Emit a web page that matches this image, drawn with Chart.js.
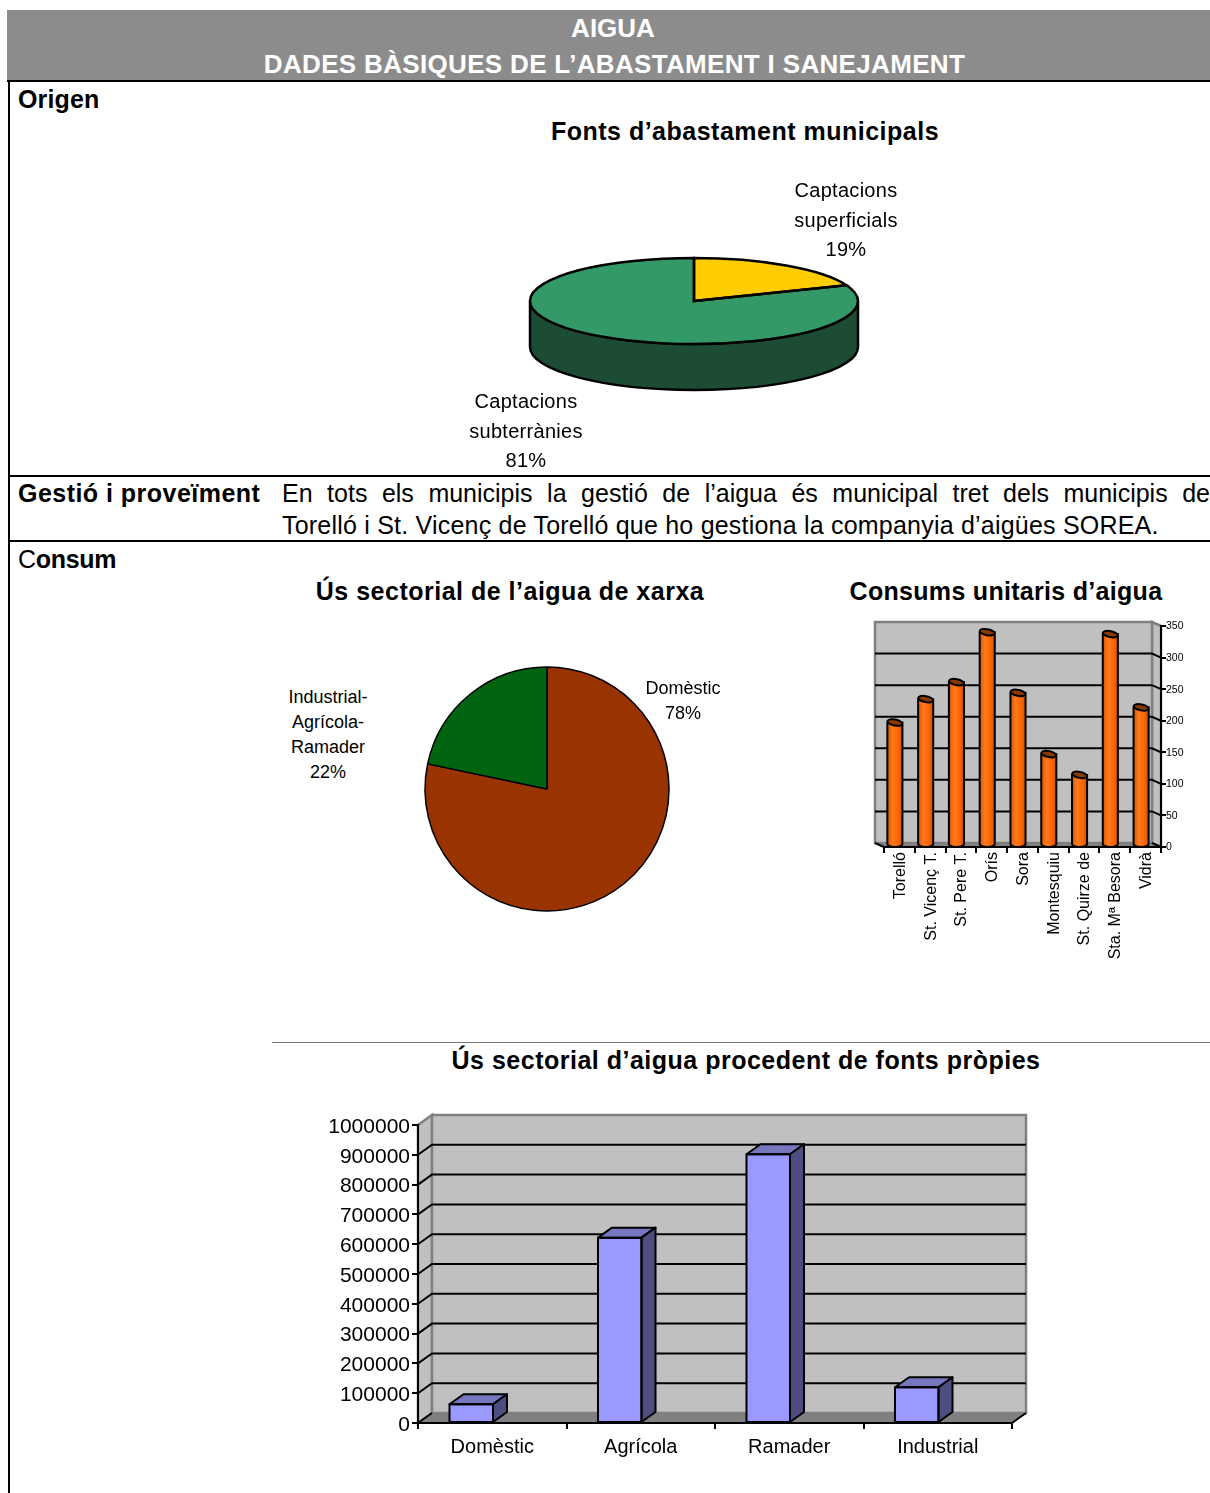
<!DOCTYPE html>
<html lang="ca">
<head>
<meta charset="utf-8">
<title>Aigua</title>
<script src="https://cdn.jsdelivr.net/npm/chart.js@4"></script>
<style>
    html, body { margin: 0; padding: 0; background: #fff; }
    body { position: relative; width: 1210px; height: 1493px; overflow: hidden; font-family: "Liberation Sans", Arial, sans-serif; color: #000; }
    canvas { position: absolute; }
    .rule { position: absolute; background: #000; }
    .text { position: absolute; white-space: nowrap; line-height: 1; }
    .bold { font-weight: bold; }
    .head { color: #fff; font-weight: bold; font-size: 26px; text-align: center; left: 0; }
    .title { font-weight: bold; font-size: 25px; text-align: center; letter-spacing: 0.5px; }
    .pie-label { text-align: center; font-size: 20px; line-height: 29.5px; letter-spacing: 0.3px; transform: translateX(-50%); }
    .pie-label.small { font-size: 18px; line-height: 25px; letter-spacing: 0; }
    #para { left: 282px; width: 928px; top: 477px; font-size: 25px; line-height: 32px; white-space: normal; text-align: justify; }
    #para span { display: block; text-align-last: justify; }
    #para span + span { text-align-last: left; letter-spacing: 0.21px; }
</style>
</head>
<body>
<div style="position:absolute;left:7px;top:10px;width:1203px;height:71px;background:#8c8c8c"></div>
<div class="rule" style="left:7px;top:80px;width:1203px;height:2px"></div>
<div class="rule" style="left:8px;top:81px;width:2px;height:1412px"></div>
<div class="rule" style="left:9px;top:475px;width:1201px;height:2px"></div>
<div class="rule" style="left:9px;top:540px;width:1201px;height:2px"></div>
<div class="rule" style="left:272px;top:1042px;width:938px;height:1px;background:#777"></div>

<div class="text head" style="top:15px;width:1226px">AIGUA</div>
<div class="text head" style="top:51px;width:1229px;letter-spacing:0.33px">DADES BÀSIQUES DE L’ABASTAMENT I SANEJAMENT</div>
<div class="text bold" style="left:18px;top:87px;font-size:25px;letter-spacing:0.15px">Origen</div>
<div class="text title" style="left:445px;width:600px;top:119px">Fonts d’abastament municipals</div>
<div class="text bold" style="left:18px;top:481px;font-size:25px;letter-spacing:0.47px">Gestió i proveïment</div>
<div class="text" id="para"><span>En tots els municipis la gestió de l’aigua és municipal tret dels municipis de</span><span>Torelló i St. Vicenç de Torelló que ho gestiona la companyia d’aigües SOREA.</span></div>
<div class="text" style="left:18px;top:547px;font-size:25px;letter-spacing:-0.3px">C<b>onsum</b></div>
<div class="text title" style="left:210px;width:600px;top:579px">Ús sectorial de l’aigua de xarxa</div>
<div class="text title" style="left:706px;width:600px;top:579px;letter-spacing:0.3px">Consums unitaris d’aigua</div>
<div class="text title" style="left:446px;width:600px;top:1048px">Ús sectorial d’aigua procedent de fonts pròpies</div>

<canvas id="fontsChart" width="340" height="340" style="left:524px;top:131px"></canvas>
<canvas id="xarxaChart" width="260" height="260" style="left:417px;top:659px"></canvas>
<canvas id="unitarisChart" width="340" height="360" style="left:860px;top:610px"></canvas>
<canvas id="propiesChart" width="750" height="360" style="left:310px;top:1100px"></canvas>

<div class="text pie-label" style="left:846px;top:176px">Captacions<br>superficials<br>19%</div>
<div class="text pie-label" style="left:526px;top:387px">Captacions<br>subterrànies<br>81%</div>
<div class="text pie-label small" style="left:683px;top:676px">Domèstic<br>78%</div>
<div class="text pie-label small" style="left:328px;top:685px">Industrial-<br>Agrícola-<br>Ramader<br>22%</div>

<script>
// ============ DATA ============
const fontsLabels = ['Captacions superficials', 'Captacions subterrànies'];
const fontsValues = [19, 81];

const xarxaLabels = ['Domèstic', 'Industrial-Agrícola-Ramader'];
const xarxaValues = [78.3, 21.7];

const unitarisLabels = ['Torelló', 'St. Vicenç T.', 'St. Pere T.', 'Orís', 'Sora', 'Montesquiu', 'St. Quirze de', 'Sta. Mª Besora', 'Vidrà'];
const unitarisValues = [194, 231, 258, 337, 241, 144, 111, 334, 218];

const propiesLabels = ['Domèstic', 'Agrícola', 'Ramader', 'Industrial'];
const propiesValues = [63000, 622000, 902000, 120000];

const FONT = '"Liberation Sans", Arial, sans-serif';
Chart.defaults.animation = false;
Chart.defaults.font.family = FONT;
Chart.defaults.color = '#000';

// ============ 3D PIE PLUGIN ============
const squash = 0.262;
const pieDepth = 46;
const pie3d = {
    id: 'pie3d',
    beforeDatasetsDraw(chart) {
        const arc = chart.getDatasetMeta(0).data[0];
        const { x, y, outerRadius: r } = arc;
        const ry = r * squash;
        const ctx = chart.ctx;
        ctx.save();
        ctx.beginPath();
        ctx.moveTo(x - r, y);
        ctx.lineTo(x - r, y + pieDepth);
        ctx.ellipse(x, y + pieDepth, r, ry, 0, Math.PI, 0, true);
        ctx.lineTo(x + r, y);
        ctx.ellipse(x, y, r, ry, 0, 0, Math.PI, false);
        ctx.closePath();
        ctx.fillStyle = '#1c4c33';
        ctx.fill();
        ctx.lineWidth = 2.5;
        ctx.strokeStyle = '#000';
        ctx.stroke();
        ctx.restore();
        ctx.save();
        ctx.translate(x, y);
        ctx.scale(1, squash);
        ctx.translate(-x, -y);
    },
    afterDatasetsDraw(chart) {
        const ctx = chart.ctx;
        ctx.restore();
        ctx.save();
        ctx.lineWidth = 2.5;
        ctx.strokeStyle = '#000';
        chart.getDatasetMeta(0).data.forEach(arc => {
            ctx.beginPath();
            ctx.moveTo(arc.x, arc.y);
            ctx.ellipse(arc.x, arc.y, arc.outerRadius, arc.outerRadius * squash, 0, arc.startAngle, arc.endAngle);
            ctx.closePath();
            ctx.stroke();
        });
        ctx.restore();
    }
};

// ============ 3D WALLS PLUGIN ============
// shift is how far the back wall sits from the front axes
function wallPlugin(sx, sy, step) {
    return {
        id: 'wall3d',
        beforeDraw(chart) {
            const { left, right, top, bottom } = chart.chartArea;
            const yScale = chart.scales.y;
            const ctx = chart.ctx;
            const sideX = sx > 0 ? left : right;
            ctx.save();
            // side wall
            ctx.beginPath();
            ctx.moveTo(sideX, top);
            ctx.lineTo(sideX + sx, top + sy);
            ctx.lineTo(sideX + sx, bottom + sy);
            ctx.lineTo(sideX, bottom);
            ctx.closePath();
            ctx.fillStyle = '#c0c0c0';
            ctx.fill();
            ctx.strokeStyle = '#808080';
            ctx.lineWidth = 2.5;
            ctx.stroke();
            // back wall
            ctx.fillStyle = '#c0c0c0';
            ctx.fillRect(left + sx, top + sy, right - left, bottom - top);
            ctx.strokeRect(left + sx, top + sy, right - left, bottom - top);
            // floor
            ctx.beginPath();
            ctx.moveTo(left, bottom);
            ctx.lineTo(left + sx, bottom + sy);
            ctx.lineTo(right + sx, bottom + sy);
            ctx.lineTo(right, bottom);
            ctx.closePath();
            ctx.fillStyle = '#808080';
            ctx.fill();
            // grid lines on wall and side
            ctx.strokeStyle = '#000';
            ctx.lineWidth = 2;
            for (let v = step; v < yScale.max; v += step) {
                const py = yScale.getPixelForValue(v);
                ctx.beginPath();
                ctx.moveTo(sideX, py);
                ctx.lineTo(sideX + sx, py + sy);
                ctx.lineTo(sx > 0 ? right + sx : left + sx, py + sy);
                ctx.stroke();
            }
            ctx.beginPath();
            ctx.moveTo(left, bottom);
            ctx.lineTo(left + sx, bottom + sy);
            ctx.moveTo(right, bottom);
            ctx.lineTo(right + sx, bottom + sy);
            ctx.stroke();
            ctx.restore();
        }
    };
}

// ============ 3D BAR PLUGINS ============
function boxBars(dx, dy, shift) {
    return {
        id: 'boxBars',
        beforeDatasetsDraw(chart) {
            chart.ctx.save();
            chart.ctx.translate(shift, 0);
        },
        afterDatasetsDraw(chart) {
            const ctx = chart.ctx;
            ctx.lineWidth = 2;
            ctx.strokeStyle = '#000';
            ctx.lineJoin = 'round';
            chart.getDatasetMeta(0).data.forEach(bar => {
                const l = bar.x - bar.width / 2, r = bar.x + bar.width / 2;
                ctx.beginPath();
                ctx.moveTo(l, bar.y);
                ctx.lineTo(l + dx, bar.y + dy);
                ctx.lineTo(r + dx, bar.y + dy);
                ctx.lineTo(r, bar.y);
                ctx.closePath();
                ctx.fillStyle = '#7777c0';
                ctx.fill();
                ctx.stroke();
                ctx.beginPath();
                ctx.moveTo(r, bar.y);
                ctx.lineTo(r + dx, bar.y + dy);
                ctx.lineTo(r + dx, bar.base + dy);
                ctx.lineTo(r, bar.base);
                ctx.closePath();
                ctx.fillStyle = '#4d4d80';
                ctx.fill();
                ctx.stroke();
                ctx.strokeRect(l, bar.y, bar.width, bar.base - bar.y);
            });
            ctx.restore();
        }
    };
}

function cylinderBars(shiftX, shiftY, capHeight) {
    return {
        id: 'cylinderBars',
        beforeDatasetsDraw(chart) {
            chart.ctx.save();
            chart.ctx.translate(shiftX, shiftY);
        },
        afterDatasetsDraw(chart) {
            const ctx = chart.ctx;
            ctx.lineWidth = 2;
            ctx.strokeStyle = '#000';
            chart.getDatasetMeta(0).data.forEach(bar => {
                const l = bar.x - bar.width / 2, r = bar.x + bar.width / 2;
                const grad = ctx.createLinearGradient(l, 0, r, 0);
                grad.addColorStop(0, '#d95500');
                grad.addColorStop(0.35, '#ff7a1f');
                grad.addColorStop(0.7, '#ff6600');
                grad.addColorStop(1, '#cc5200');
                ctx.beginPath();
                ctx.moveTo(l, bar.y);
                ctx.lineTo(l, bar.base);
                ctx.ellipse(bar.x, bar.base, bar.width / 2, capHeight, 0, Math.PI, 0, true);
                ctx.lineTo(r, bar.y);
                ctx.closePath();
                ctx.fillStyle = grad;
                ctx.fill();
                ctx.stroke();
                ctx.beginPath();
                ctx.ellipse(bar.x, bar.y, bar.width / 2, capHeight, 0.2, 0, Math.PI * 2);
                ctx.fillStyle = '#8a3a00';
                ctx.fill();
                ctx.stroke();
            });
            ctx.restore();
        }
    };
}

// ============ PIE CHARTS ============
function initFontsChart() {
    return new Chart(document.getElementById('fontsChart'), {
        type: 'pie',
        data: {
            labels: fontsLabels,
            datasets: [{
                data: fontsValues,
                backgroundColor: ['#ffcc00', '#339966'],
                borderWidth: 0,
                hoverOffset: 0
            }]
        },
        options: {
            responsive: false,
            radius: 164,
            plugins: { legend: { display: false }, tooltip: { enabled: false } }
        },
        plugins: [pie3d]
    });
}

function initXarxaChart() {
    return new Chart(document.getElementById('xarxaChart'), {
        type: 'pie',
        data: {
            labels: xarxaLabels,
            datasets: [{
                data: xarxaValues,
                backgroundColor: ['#993300', '#006411'],
                borderColor: '#000',
                borderWidth: 1.5,
                hoverOffset: 0
            }]
        },
        options: {
            responsive: false,
            radius: 122,
            plugins: { legend: { display: false }, tooltip: { enabled: false } }
        }
    });
}

// ============ BAR CHARTS ============
function initUnitarisChart() {
    return new Chart(document.getElementById('unitarisChart'), {
        type: 'bar',
        data: {
            labels: unitarisLabels,
            datasets: [{
                data: unitarisValues,
                backgroundColor: '#ff6600',
                barPercentage: 0.49,
                categoryPercentage: 1
            }]
        },
        options: {
            responsive: false,
            layout: { padding: { left: 24, top: 16, right: 0, bottom: 0 } },
            plugins: { legend: { display: false }, tooltip: { enabled: false } },
            scales: {
                x: {
                    afterFit: scale => { scale.height = 123; },
                    grid: { drawOnChartArea: false, color: '#000', lineWidth: 2, tickLength: 6 },
                    border: { color: '#000', width: 2 },
                    ticks: { autoSkip: false, minRotation: 90, maxRotation: 90, padding: -1, labelOffset: 1, font: { size: 16 } }
                },
                y: {
                    position: 'right',
                    min: 0,
                    max: 350,
                    afterFit: scale => { scale.width = 39; },
                    grid: { drawOnChartArea: false, color: '#000', lineWidth: 2, tickLength: 5 },
                    border: { color: '#000', width: 2 },
                    ticks: { stepSize: 50, padding: 0, labelOffset: 0.5, font: { size: 10.5 } }
                }
            }
        },
        plugins: [wallPlugin(-9, -4, 50), cylinderBars(-4.5, -2, 3)]
    });
}

function initPropiesChart() {
    return new Chart(document.getElementById('propiesChart'), {
        type: 'bar',
        data: {
            labels: propiesLabels,
            datasets: [{
                data: propiesValues,
                backgroundColor: '#9999ff',
                barPercentage: 0.293,
                categoryPercentage: 1
            }]
        },
        options: {
            responsive: false,
            layout: { padding: { left: 0, top: 25, right: 48, bottom: 0 } },
            plugins: { legend: { display: false }, tooltip: { enabled: false } },
            scales: {
                x: {
                    afterFit: scale => { scale.height = 37; },
                    grid: { drawOnChartArea: false, color: '#000', lineWidth: 2, tickLength: 6 },
                    border: { color: '#000', width: 2 },
                    ticks: { padding: 6, font: { size: 20 } }
                },
                y: {
                    min: 0,
                    max: 1000000,
                    afterFit: scale => { scale.width = 108; },
                    grid: { drawOnChartArea: false, color: '#000', lineWidth: 2, tickLength: 6 },
                    border: { color: '#000', width: 2 },
                    ticks: { stepSize: 100000, padding: 2, labelOffset: 2, font: { size: 21 }, callback: value => String(value) }
                }
            }
        },
        plugins: [wallPlugin(14, -10, 100000), boxBars(14, -10, -21)]
    });
}

document.addEventListener('DOMContentLoaded', function() {
    initFontsChart();
    initXarxaChart();
    initUnitarisChart();
    initPropiesChart();
});
</script>
</body>
</html>
